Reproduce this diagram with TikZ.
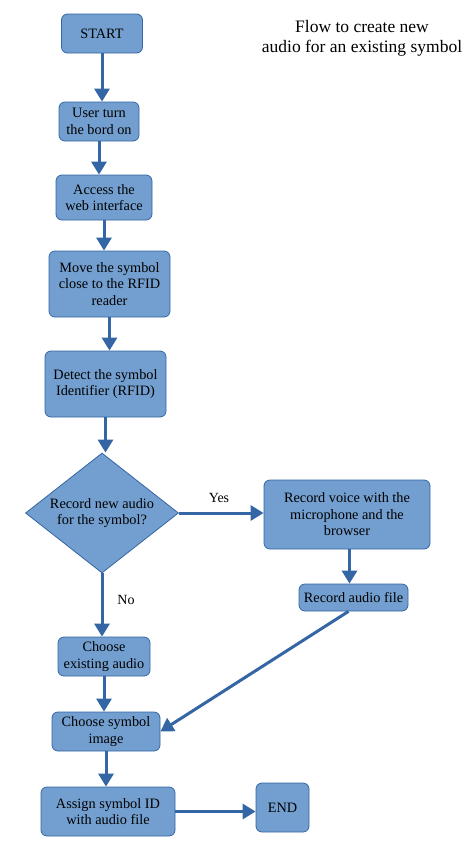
\documentclass[tikz,border=0pt]{standalone}
\usepackage{fontspec}
\setmainfont{Liberation Serif}
\usetikzlibrary{shapes.geometric, arrows.meta}

\definecolor{boxfill}{HTML}{729FCF}
\definecolor{boxline}{HTML}{3465A4}

\begin{document}
\begin{tikzpicture}[x=1pt, y=-1pt]

\tikzset{stepbox/.style = {shape=rectangle, rounded corners=6pt, draw=boxline, fill=boxfill, line width=0.8pt, align=center, font=\fontsize{14.3}{16.5}\selectfont, inner sep=1pt}}
\tikzset{decision/.style = {shape=diamond, draw=boxline, fill=boxfill, line width=0.8pt, align=center, font=\fontsize{14.3}{16.5}\selectfont, inner sep=-4pt, minimum width=153pt, minimum height=120pt}}
\tikzset{edge/.style = {-{Triangle[width=15pt,length=13pt]}, draw=boxline, line width=3pt}}
\tikzset{lbl/.style = {font=\fontsize{14}{16}\selectfont}}

\useasboundingbox (0,0) rectangle (474,844);

%boxes
\node[stepbox, minimum width=81pt, minimum height=39pt] (start) at (102,33.5) {START};
\node[stepbox, minimum width=80pt, minimum height=39pt] (turnon) at (99,121.5) {User turn\\the bord on};
\node[stepbox, minimum width=96pt, minimum height=45pt] (access) at (104,197.5) {Access the\\web interface};
\node[stepbox, minimum width=121pt, minimum height=66pt] (move) at (109.5,284) {Move the symbol\\close to the RFID\\reader};
\node[stepbox, minimum width=121pt, minimum height=66pt] (detect) at (105.5,384) {Detect the symbol\\Identifier (RFID)};
\node[decision] (record) at (102,513) {Record new audio\\for the symbol?};
\node[stepbox, minimum width=166pt, minimum height=69pt] (voice) at (347,514.5) {Record voice with the\\microphone and the\\browser};
\node[stepbox, minimum width=109pt, minimum height=27pt] (audiofile) at (353.5,597.5) {Record audio file};
\node[stepbox, minimum width=92pt, minimum height=39pt] (existing) at (104,656.5) {Choose\\existing audio};
\node[stepbox, minimum width=108pt, minimum height=39pt] (image) at (106,731.5) {Choose symbol\\image};
\node[stepbox, minimum width=134pt, minimum height=49pt] (assign) at (108,811.5) {Assign symbol ID\\with audio file};
\node[stepbox, minimum width=53pt, minimum height=49pt] (end) at (282.5,807.5) {END};

%title and labels
\node[align=center, font=\fontsize{17.5}{20}\selectfont] (title) at (362,38) {Flow to create new\\audio for an existing symbol};
\node[lbl] (yes) at (219,498) {Yes};
\node[lbl] (no) at (126,600) {No};

%arrows
\draw [edge] (start.south) -- (start.south |- turnon.north);
\draw [edge] (turnon.south) -- (turnon.south |- access.north);
\draw [edge] (access.south) -- (access.south |- move.north);
\draw [edge] (move.south) -- (move.south |- detect.north);
\draw [edge] (detect.south) -- (detect.south |- record.north);
\draw [edge] (record.east) -- (record.east -| voice.west);
\draw [edge] (record.south) -- (record.south |- existing.north);
\draw [edge] (voice.south -| audiofile.north) ++(-4,0) coordinate (vs) (vs) -- (vs |- audiofile.north);
\draw [edge] (audiofile.south) ++(-5,0) coordinate (as) (as) -- (image.east);
\draw [edge] (existing.south) -- (existing.south |- image.north);
\draw [edge] (image.south) -- (image.south |- assign.north);
\draw [edge] (assign.east) -- (assign.east -| end.west);

\end{tikzpicture}
\end{document}
